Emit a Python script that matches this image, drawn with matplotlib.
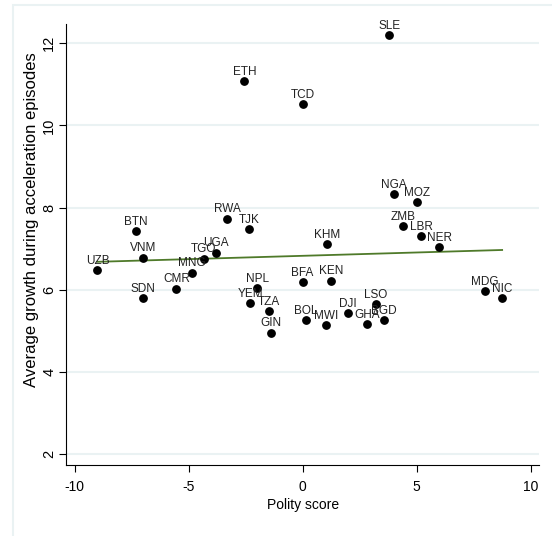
import numpy as np
import matplotlib
matplotlib.use('Agg')
from matplotlib import pyplot as plt
from matplotlib.patches import Rectangle

plt.rcParams['font.family'] = ['Liberation Sans', 'DejaVu Sans']
plt.rcParams['axes.unicode_minus'] = False

countries = ['UZB', 'BTN', 'VNM', 'SDN', 'CMR', 'MNG', 'TGO', 'UGA', 'RWA', 'TJK',
             'ETH', 'NPL', 'YEM', 'TZA', 'GIN', 'BFA', 'TCD', 'BOL', 'MWI', 'KHM',
             'KEN', 'DJI', 'GHA', 'LSO', 'BGD', 'SLE', 'NGA', 'ZMB', 'MOZ', 'LBR',
             'NER', 'MDG', 'NIC']
polity = [-9.0, -7.33, -7.0, -7.0, -5.54, -4.87, -4.33, -3.82, -3.31, -2.34,
          -2.56, -2.0, -2.3, -1.49, -1.4, 0.0, 0.0, 0.13, 1.01, 1.07,
          1.26, 2.0, 2.82, 3.21, 3.55, 3.8, 3.99, 4.41, 5.0, 5.19,
          5.99, 8.0, 8.75]
growth = [6.48, 7.43, 6.78, 5.79, 6.02, 6.41, 6.75, 6.9, 7.73, 7.47,
          11.07, 6.03, 5.67, 5.48, 4.95, 6.18, 10.51, 5.25, 5.14, 7.1,
          6.22, 5.43, 5.16, 5.65, 5.25, 12.19, 8.33, 7.55, 8.13, 7.3,
          7.03, 5.97, 5.79]

x = np.array(polity)
y = np.array(growth)

fig = plt.figure(figsize=(5.52, 5.36), dpi=100)
fig.patches.append(Rectangle((13 / 552, -0.05), 1, 1.05 - 5 / 536, transform=fig.transFigure,
                             fill=False, edgecolor='#eaf2f3', linewidth=1.5))
ax = fig.add_axes([66 / 552, 1 - 465 / 536, (539.3 - 66) / 552, (465 - 24) / 536])

for v in [2, 4, 6, 8, 10, 12]:
    ax.axhline(v, color='#eaf2f3', linewidth=1.5, zorder=0)

ax.scatter(x, y, s=28, c='black', zorder=3)
for name, px, py in zip(countries, x, y):
    ax.annotate(name, (px, py), xytext=(0, 4.6), textcoords='offset points',
                ha='center', va='baseline', fontsize=8.5, color='#222222')

# linear fit
b, a = np.polyfit(x, y, 1)
xs = np.array([x.min(), x.max()])
ax.plot(xs, a + b * xs, color='#4f7a2a', linewidth=1.3, zorder=2)

ax.set_xlim(-10.38, 10.38)
ax.set_ylim(1.73, 12.47)
ax.set_xticks([-10, -5, 0, 5, 10])
ax.set_yticks([2, 4, 6, 8, 10, 12])
ax.set_yticklabels(['2', '4', '6', '8', '10', '12'], rotation=90, va='center')
ax.tick_params(direction='out', length=5, width=0.8)
ax.tick_params(axis='x', labelsize=10, pad=6)
ax.tick_params(axis='y', labelsize=10.5, pad=2)
for s in ['top', 'right']:
    ax.spines[s].set_visible(False)
ax.spines['left'].set_linewidth(0.8)
ax.spines['bottom'].set_linewidth(0.8)

ax.set_xlabel('Polity score', fontsize=10, labelpad=3)
ax.set_ylabel('Average growth during acceleration episodes', fontsize=12)
ax.yaxis.set_label_coords(-0.056, 0.556)

plt.savefig('out.png', dpi=100)
